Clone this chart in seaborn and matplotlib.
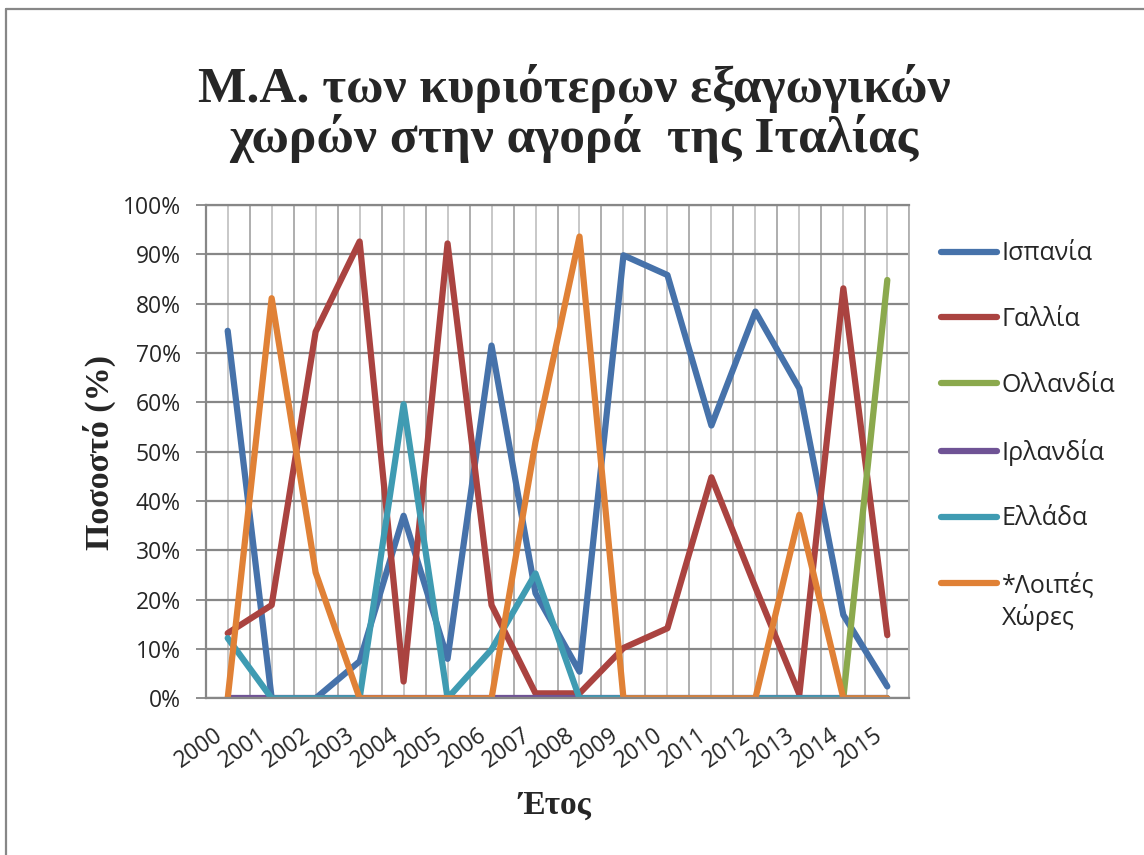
import numpy as np
import pandas as pd
import matplotlib
matplotlib.use("Agg")
import matplotlib.pyplot as plt
import seaborn as sns
from matplotlib.ticker import FixedLocator, PercentFormatter
from matplotlib.lines import Line2D

# ---------------- data ----------------
years = list(range(2000, 2016))
countries = ["Ισπανία", "Γαλλία", "Ολλανδία", "Ιρλανδία", "Ελλάδα", "*Λοιπές Χώρες"]
spain = [74.5, 0, 0, 7.5, 37.0, 8.0, 71.5, 21.3, 5.4, 89.8, 85.8, 55.3, 78.4, 62.8, 16.9, 2.4]
france = [13.2, 18.9, 74.3, 92.6, 3.4, 92.2, 18.9, 1.0, 1.0, 10.2, 14.2, 44.8, 22.5, 0.8, 83.1, 12.8]
netherlands = [0, 0, 0, 0, 0, 0, 0, 0, 0, 0, 0, 0, 0, 0, 0, 84.8]
ireland = [0, 0, 0, 0, 0, 0, 0, 0, 0, 0, 0, 0, 0, 0, 0, 0]
greece = [12.2, 0, 0, 0, 59.6, 0, 9.9, 25.3, 0, 0, 0, 0, 0, 0, 0, 0]
others = [0, 81.1, 25.5, 0, 0, 0, 0, 52.0, 93.6, 0, 0, 0, 0, 37.2, 0, 0]
series = [spain, france, netherlands, ireland, greece, others]
colors = ["#4672AA", "#AA4340", "#8BA94D", "#6F5395", "#3F9BB2", "#E08136"]

title = "Μ.Α. των κυριότερων εξαγωγικών\nχωρών στην αγορά  της Ιταλίας"
xlabel = "Έτος"
ylabel = "Ποσοστό (%)"

df = pd.DataFrame({
    "year": years * len(countries),
    "value": [v for s in series for v in s],
    "country": [c for c in countries for _ in years],
})

# ---------------- style ----------------
sns.set_style("white")
plt.rcParams["font.family"] = ["Open Sans", "DejaVu Sans"]
SERIF = ["Liberation Serif", "DejaVu Serif"]

W, H = 1144, 855
fig = plt.figure(figsize=(W / 100, H / 100), dpi=100)
ax_l, ax_r, ax_t, ax_b = 205.7, 909.3, 205.0, 698.3
ax = fig.add_axes([ax_l / W, 1 - ax_b / H, (ax_r - ax_l) / W, (ax_b - ax_t) / H])

LW = 4.5
sns.lineplot(data=df, x="year", y="value", hue="country", hue_order=countries,
             palette=colors, linewidth=LW, errorbar=None, legend=False, ax=ax,
             solid_capstyle="round", solid_joinstyle="round")

ax.set_xlim(years[0] - 0.5, years[-1] + 0.5)
ax.set_ylim(0, 100)

# ticks
ax.xaxis.set_major_locator(FixedLocator(years))
ax.set_xticklabels([str(y) for y in years], rotation=35, ha="right", va="top",
                   rotation_mode="default")
ax.xaxis.set_minor_locator(FixedLocator([y - 0.5 for y in years] + [years[-1] + 0.5]))
ax.yaxis.set_major_locator(FixedLocator(np.arange(0, 101, 10)))
ax.yaxis.set_major_formatter(PercentFormatter(xmax=100, decimals=0))

ax.tick_params(axis="x", which="major", length=0, pad=18, labelsize=16.5)
ax.tick_params(axis="x", which="minor", length=7, width=1.3, color="#868686", direction="out")
ax.tick_params(axis="y", which="major", length=7, width=1.3, color="#868686",
               direction="out", pad=11, labelsize=16.5)
ax.tick_params(left=True, bottom=True)

# grid
ax.set_axisbelow(True)
ax.grid(False)
ax.grid(which="major", axis="x", color="#C4C4C4", linewidth=1.3)
ax.grid(which="minor", axis="x", color="#A8A8A8", linewidth=1.3)
ax.grid(which="major", axis="y", color="#878787", linewidth=1.6)

for side in ["left", "bottom", "top"]:
    ax.spines[side].set_color("#878787")
    ax.spines[side].set_linewidth(1.6)
ax.spines["right"].set_color("#B0B0B0")
ax.spines["right"].set_linewidth(1.3)

ax.set_xlabel("")
ax.set_ylabel("")

# axis titles
fig.text(555 / W, 1 - 805 / H, xlabel, ha="center", va="center",
         fontsize=24, fontweight="bold", family=SERIF)
fig.text(99 / W, 1 - 452 / H, ylabel, ha="center", va="center", rotation=90,
         fontsize=24.5, fontweight="bold", family=SERIF)

# chart title (last line baseline at y=152 px)
fig.text(574 / W, 1 - 152 / H, title, ha="center", va="baseline", fontsize=37,
         fontweight="bold", family=SERIF, linespacing=1.02)

# legend
LFS = 18
handles = [Line2D([], [], color=c, linewidth=LW, solid_capstyle="round") for c in colors]
labels = [c.split(" ")[0] if c.startswith("*") else c for c in countries]
leg = fig.legend(handles, labels, loc="upper left", bbox_to_anchor=(941 / W, 1 - 235 / H),
                 frameon=False, fontsize=LFS, handlelength=2.25, handletextpad=0.17,
                 labelspacing=1.63, borderpad=0, borderaxespad=0)

fig.canvas.draw()
r = fig.canvas.get_renderer()
hl = leg.legend_handles[0].get_window_extent(r)
cy = (hl.y0 + hl.y1) / 2
dy = (H - 251.7) - cy
dx = 941 - hl.x0
leg.set_bbox_to_anchor((941 / W + dx / W, 1 - 235 / H + dy / H), transform=fig.transFigure)
fig.canvas.draw()
lt = leg.get_texts()[-1].get_window_extent(r)
fig.text(lt.x0 / W, ((lt.y0 + lt.y1) / 2 - 32) / H, "Χώρες", ha="left", va="center",
         fontsize=LFS)

# outer border (left and top visible)
fig.add_artist(Line2D([5.5 / W, 5.5 / W], [0, 1 - 9 / H], transform=fig.transFigure,
                      color="#878787", linewidth=1.6))
fig.add_artist(Line2D([5.5 / W, 1], [1 - 9 / H, 1 - 9 / H], transform=fig.transFigure,
                      color="#878787", linewidth=1.6))

fig.savefig("out.png", dpi=100)
